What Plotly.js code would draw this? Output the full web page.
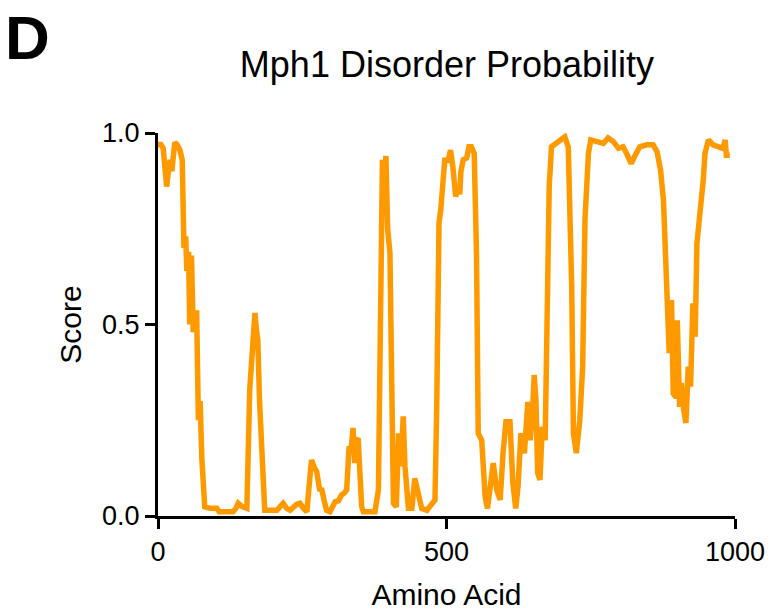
<!DOCTYPE html>
<html>
<head>
<meta charset="utf-8">
<script src="https://cdn.plot.ly/plotly-3.0.1.min.js"></script>
<style>html,body{margin:0;padding:0;background:#fff;}#chart{width:780px;height:615px;}</style>
</head>
<body>
<div id="chart"></div>
<script>
const chartTitle = "Mph1 Disorder Probability";
const panelLabel = "D";
const xLabel = "Amino Acid";
const yLabel = "Score";
const xTicks = [0, 500, 1000];
const yTicks = [0, 0.5, 1.0];
const yTickText = ["0.0", "0.5", "1.0"];

const residue = [0,5,9,12,15,18,21,24,29,33,38,42,45,48,50,53,55,58,61,64,67,70,73,76,81,90,102,106,120,130,135,139,145,154,159,163,168,171,173,176,180,185,195,206,212,217,223,229,240,246,252,258,262,266,270,275,280,284,288,292,298,303,307,313,318,323,327,331,335,338,341,344,347,353,356,366,376,382,386,389,392,395,398,402,408,413,417,421,425,428,434,440,445,451,457,466,474,480,483,487,490,493,497,503,507,511,516,520,523,525,529,535,539,543,548,552,555,561,567,571,575,581,587,593,598,603,610,615,620,624,629,635,641,645,649,652,655,658,662,666,671,675,678,682,691,700,705,711,717,720,725,731,736,740,746,750,760,772,780,789,798,806,812,820,827,835,847,858,865,871,876,880,883,886,890,893,898,900,904,907,911,915,919,923,927,931,934,938,941,945,948,954,962,971,979,983,985,991];
const score = [0.97,0.97,0.96,0.92,0.86,0.90,0.93,0.90,0.975,0.97,0.955,0.93,0.70,0.73,0.64,0.69,0.50,0.68,0.48,0.53,0.53,0.25,0.30,0.15,0.024,0.02,0.02,0.011,0.011,0.011,0.02,0.033,0.025,0.02,0.33,0.42,0.53,0.48,0.46,0.30,0.15,0.015,0.015,0.015,0.025,0.033,0.02,0.015,0.03,0.033,0.02,0.011,0.08,0.146,0.13,0.116,0.07,0.068,0.04,0.015,0.011,0.025,0.037,0.04,0.055,0.06,0.068,0.177,0.18,0.23,0.138,0.20,0.198,0.024,0.011,0.011,0.011,0.068,0.78,0.93,0.86,0.94,0.75,0.686,0.033,0.024,0.216,0.13,0.26,0.13,0.02,0.02,0.098,0.05,0.02,0.015,0.033,0.042,0.277,0.764,0.80,0.869,0.929,0.929,0.955,0.912,0.834,0.86,0.84,0.90,0.93,0.935,0.964,0.964,0.947,0.686,0.216,0.198,0.05,0.02,0.068,0.138,0.068,0.042,0.164,0.246,0.246,0.086,0.02,0.077,0.216,0.164,0.298,0.198,0.269,0.368,0.303,0.112,0.094,0.233,0.198,0.511,0.86,0.964,0.973,0.982,0.99,0.964,0.599,0.216,0.164,0.25,0.39,0.773,0.947,0.982,0.978,0.973,0.987,0.978,0.96,0.964,0.947,0.92,0.942,0.964,0.969,0.969,0.951,0.903,0.825,0.668,0.625,0.425,0.564,0.32,0.31,0.511,0.285,0.347,0.277,0.243,0.39,0.338,0.555,0.468,0.712,0.764,0.825,0.877,0.947,0.982,0.969,0.964,0.96,0.982,0.942,0.942];

const font = "Arial, 'Liberation Sans', Helvetica, sans-serif";

const trace = {
  x: residue,
  y: score,
  type: "scatter",
  mode: "lines",
  line: {color: "#FF9900", width: 5.5},
  cliponaxis: false,
  hoverinfo: "x+y"
};

const layout = {
  width: 780,
  height: 615,
  margin: {l: 158, r: 45, t: 133, b: 99},
  paper_bgcolor: "#fff",
  plot_bgcolor: "#fff",
  showlegend: false,
  font: {family: font, color: "#000"},
  title: {
    text: chartTitle,
    font: {family: font, size: 36, color: "#000"},
    x: 0.573, xanchor: "center",
    y: 0.895, yanchor: "middle", xref: "container", yref: "container"
  },
  xaxis: {
    range: [0, 1000],
    tickvals: xTicks,
    ticktext: xTicks.map(String),
    ticks: "outside", ticklen: 10, tickwidth: 3, tickcolor: "#000",
    showline: true, linewidth: 3, linecolor: "#000",
    showgrid: false, zeroline: false,
    tickfont: {family: font, size: 27, color: "#000"},
    title: {text: xLabel, font: {family: font, size: 30, color: "#000"}, standoff: 18}
  },
  yaxis: {
    range: [0, 1],
    tickvals: yTicks,
    ticktext: yTickText,
    ticks: "outside", ticklen: 10, tickwidth: 3, tickcolor: "#000",
    showline: true, linewidth: 3, linecolor: "#000",
    showgrid: false, zeroline: false,
    tickfont: {family: font, size: 27, color: "#000"},
    title: {text: yLabel, font: {family: font, size: 30, color: "#000"}, standoff: 12}
  },
  annotations: [{
    text: "<b>" + panelLabel + "</b>",
    xref: "paper", yref: "paper",
    x: -0.268, y: 1.25, xanchor: "left", yanchor: "middle",
    showarrow: false,
    font: {family: font, size: 62, color: "#000"}
  }]
};

Plotly.newPlot("chart", [trace], layout, {displayModeBar: false, staticPlot: true});
</script>
</body>
</html>
